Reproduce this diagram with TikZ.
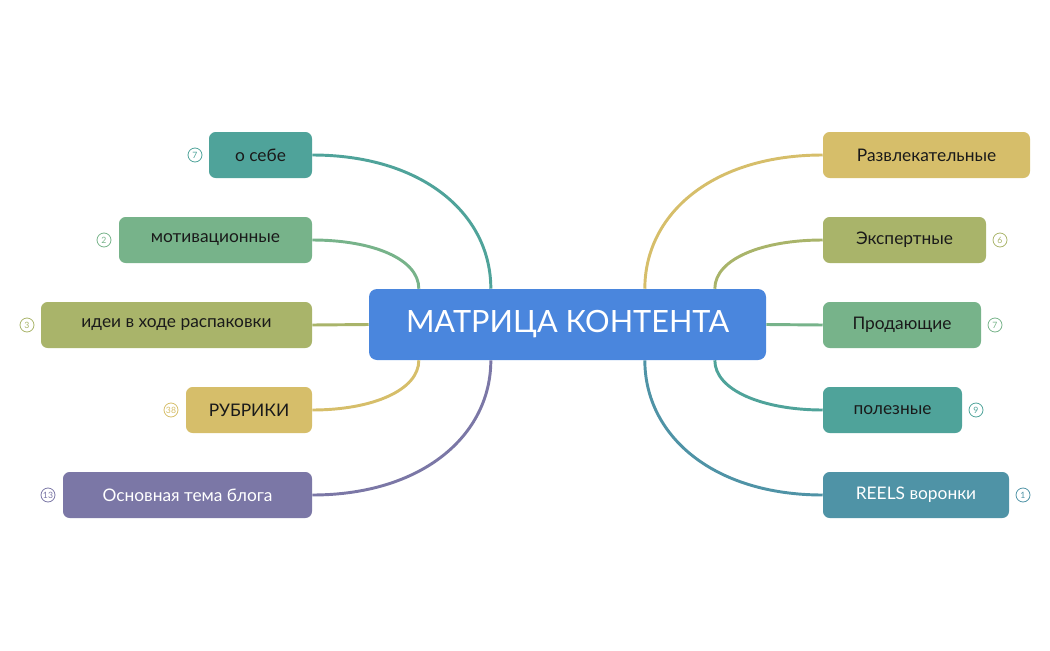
\documentclass[tikz,border=0pt]{standalone}
\usepackage{fontspec}
\setmainfont{Lato}
\definecolor{cblue}{HTML}{4A86DD}
\definecolor{cteal}{HTML}{4FA39A}
\definecolor{cgreen}{HTML}{77B38A}
\definecolor{colive}{HTML}{A9B46A}
\definecolor{cyel}{HTML}{D6BE6A}
\definecolor{cpurp}{HTML}{7B77A6}
\definecolor{cpet}{HTML}{4F93A6}
\definecolor{ctext}{HTML}{1A1A1A}
\tikzset{
 topic/.style={rounded corners=5pt, minimum height=34.5pt, inner xsep=0pt, font=\fontsize{13}{15}\selectfont, text=ctext},
 badge/.style={circle, draw=#1, line width=0.6pt, text=#1, inner sep=0pt, minimum size=10.5pt, font=\fontsize{6.5}{7}\selectfont},
 link/.style={line width=2.2pt, draw=#1},
}
\begin{document}
\begin{tikzpicture}[x=0.75pt,y=-0.75pt]
\useasboundingbox (0,0) rectangle (1050,650);
\node[fill=cblue, rounded corners=6pt, minimum width=297.75pt, minimum height=53.25pt, text=white, font=\fontsize{23}{26}\selectfont] (c) at (567.5,324.5) {МАТРИЦА КОНТЕНТА};
% left
\node[topic, fill=cteal, minimum width=77.25pt] (l1) at (260.5,155) {о себе};
\node[topic, fill=cgreen, minimum width=144.75pt] (l2) at (215.5,240) {мотивационные};
\node[topic, fill=colive, minimum width=203.25pt] (l3) at (176.5,325) {идеи в ходе распаковки};
\node[topic, fill=cyel, minimum width=94.5pt] (l4) at (249,410) {РУБРИКИ};
\node[topic, fill=cpurp, minimum width=186.75pt, text=white] (l5) at (187.5,495) {Основная тема блога};
\node[badge=cteal] (b1) at (195,155) {7};
\node[badge=cgreen] (b2) at (104,240) {2};
\node[badge=colive] (b3) at (27,325) {3};
\node[badge=cyel] (b4) at (171,410) {38};
\node[badge=cpurp] (b5) at (48,495) {13};
% right
\node[topic, fill=cyel, minimum width=155.25pt] (r1) at (926.5,155) {Развлекательные};
\node[topic, fill=colive, minimum width=122.25pt] (r2) at (904.5,240) {Экспертные};
\node[topic, fill=cgreen, minimum width=118.5pt] (r3) at (902,325) {Продающие};
\node[topic, fill=cteal, minimum width=104.25pt] (r4) at (892.5,410) {полезные};
\node[topic, fill=cpet, minimum width=139.5pt, text=white] (r5) at (916,495) {REELS воронки};
\node[badge=colive] (d2) at (1000,240) {6};
\node[badge=cgreen] (d3) at (995,325) {7};
\node[badge=cteal] (d4) at (976,410) {9};
\node[badge=cpet] (d5) at (1023,495) {1};
% links
\begin{scope}[on background layer/.style={}]
\end{scope}
\draw[link=cteal] ([xshift=-57.5pt]c.north) .. controls +(0,-75) and +(110,0) .. (l1.east);
\draw[link=cgreen] ([xshift=-111.5pt]c.north) .. controls +(0,-30) and +(60,0) .. (l2.east);
\draw[link=colive] (c.west) -- (l3.east);
\draw[link=cyel] ([xshift=-111.5pt]c.south) .. controls +(0,30) and +(60,0) .. (l4.east);
\draw[link=cpurp] ([xshift=-57.5pt]c.south) .. controls +(0,75) and +(110,0) .. (l5.east);
\draw[link=cyel] ([xshift=58pt]c.north) .. controls +(0,-75) and +(-110,0) .. (r1.west);
\draw[link=colive] ([xshift=110.5pt]c.north) .. controls +(0,-30) and +(-60,0) .. (r2.west);
\draw[link=cgreen] (c.east) -- (r3.west);
\draw[link=cteal] ([xshift=110.5pt]c.south) .. controls +(0,30) and +(-60,0) .. (r4.west);
\draw[link=cpet] ([xshift=58pt]c.south) .. controls +(0,75) and +(-110,0) .. (r5.west);
\end{tikzpicture}
\end{document}
